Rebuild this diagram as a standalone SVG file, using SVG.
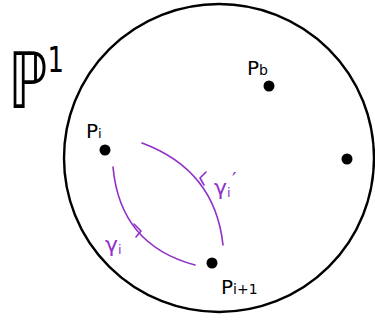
<svg xmlns="http://www.w3.org/2000/svg" width="375" height="322" viewBox="0 0 375 322">
<style>
.lbl{font-family:"DejaVu Sans","Liberation Sans",sans-serif;fill:#000}
.pl{font-family:"DejaVu Sans","Liberation Sans",sans-serif;fill:#9030c8}
.dot{fill:#000}
.arc{fill:none;stroke:#9030c8;stroke-width:1.6;stroke-linecap:round;stroke-linejoin:round}
</style>
<rect width="375" height="322" fill="#fff"/>
<g id="sphere">
<ellipse cx="219" cy="158" rx="155" ry="154" fill="none" stroke="#000" stroke-width="2.4"/>
<text class="lbl" transform="translate(8,108) scale(0.72,1)" font-size="78">ℙ<tspan font-size="36" dy="-36">1</tspan></text>
</g>
<g id="pi">
<circle class="dot" cx="105" cy="150" r="5.5"/>
<text class="lbl" x="86" y="138" font-size="20">P<tspan font-size="13">i</tspan></text>
</g>
<g id="pb">
<circle class="dot" cx="269" cy="86" r="5.5"/>
<text class="lbl" x="247" y="75" font-size="20">P<tspan font-size="14">b</tspan></text>
</g>
<g id="pi1">
<circle class="dot" cx="212" cy="263" r="5.5"/>
<text class="lbl" x="221" y="294" font-size="20">P<tspan font-size="14">i+1</tspan></text>
</g>
<g id="pr">
<circle class="dot" cx="347" cy="159" r="5.5"/>
</g>
<g id="connectors">
<path class="arc" d="M113,167 Q120,245 195,265"/>
<path class="arc" d="M134,224 L141,231 L136,237"/>
<path class="arc" d="M223,245 Q215,170 142,143"/>
<path class="arc" d="M206,172 L200,178 L204,185"/>
<text class="pl" x="105" y="252" font-size="22">γ<tspan font-size="13" dy="2">i</tspan></text>
<text class="pl" x="214" y="195" font-size="22">γ<tspan font-size="13" dy="2">i</tspan><tspan font-size="20" x="232" y="186">′</tspan></text>
</g>
</svg>
